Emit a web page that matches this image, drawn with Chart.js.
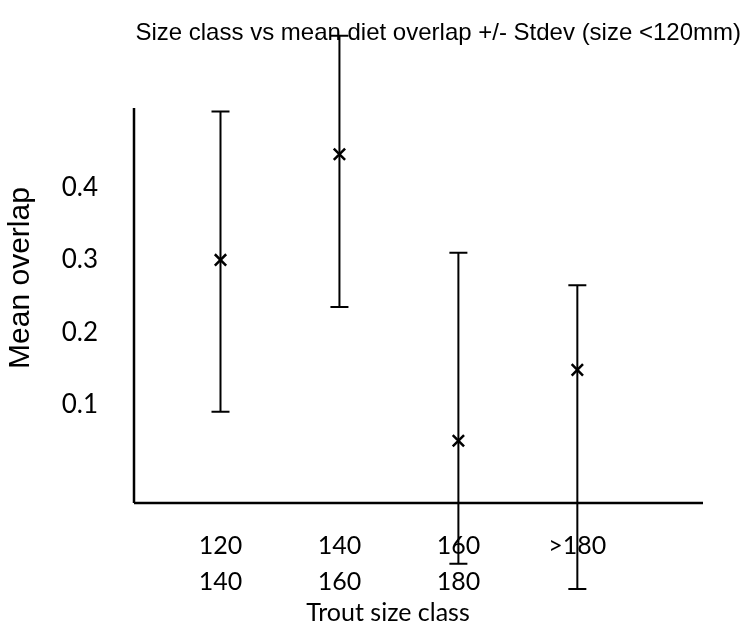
<!DOCTYPE html>
<html>
<head>
<meta charset="utf-8">
<script src="https://cdn.jsdelivr.net/npm/chart.js@4.4.1/dist/chart.umd.min.js"></script>
<style>
  html, body { margin: 0; padding: 0; background: #fff; }
  canvas { display: block; }
</style>
</head>
<body>
<canvas id="chart" width="746" height="628"></canvas>
<script>
// size classes (two-line tick labels)
const sizeClasses = [['120', '140'], ['140', '160'], ['160', '180'], ['>180']]
const meanOverlap = [0.30, 0.446, 0.05, 0.148]
// ends of the +/- stdev bars
const barLow = [0.09, 0.235, -0.12, -0.155]
const barHigh = [0.505, 0.61, 0.31, 0.265]
const yTicks = [0.1, 0.2, 0.3, 0.4]

Chart.defaults.color = '#000'

// hand drawn looking axis lines, longer than the plot area
const axisLines = {
  id: 'axisLines',
  afterDraw (chart) {
    const { ctx, chartArea } = chart
    ctx.save()
    ctx.strokeStyle = '#000'
    ctx.lineWidth = 2.5
    ctx.beginPath()
    ctx.moveTo(chartArea.left + 1, 108)
    ctx.lineTo(chartArea.left + 1, chartArea.bottom)
    ctx.moveTo(chartArea.left + 1, chartArea.bottom)
    ctx.lineTo(703, chartArea.bottom)
    ctx.stroke()
    ctx.restore()
  },
}

const errorBars = {
  id: 'errorBars',
  beforeDatasetsDraw (chart) {
    const { ctx, scales: { x, y } } = chart
    ctx.save()
    ctx.strokeStyle = '#000'
    ctx.lineWidth = 2
    meanOverlap.forEach((m, i) => {
      const px = x.getPixelForValue(i + 1)
      const lo = y.getPixelForValue(barLow[i])
      const hi = y.getPixelForValue(barHigh[i])
      ctx.beginPath()
      ctx.moveTo(px, hi)
      ctx.lineTo(px, lo)
      ctx.moveTo(px - 9, hi)
      ctx.lineTo(px + 9, hi)
      ctx.moveTo(px - 9, lo)
      ctx.lineTo(px + 9, lo)
      ctx.stroke()
    })
    ctx.restore()
  },
}

new Chart(document.getElementById('chart'), {
  type: 'scatter',
  data: {
    datasets: [{
      data: meanOverlap.map((v, i) => ({ x: i + 1, y: v })),
      pointStyle: 'crossRot',
      pointRadius: 8,
      pointHoverRadius: 8,
      borderWidth: 2.5,
      borderColor: '#000',
      backgroundColor: '#000',
    }],
  },
  options: {
    responsive: false,
    animation: false,
    layout: { padding: { left: 0, right: 5, top: 0, bottom: 0 } },
    plugins: {
      legend: { display: false },
      tooltip: { enabled: false },
      title: {
        display: true,
        text: 'Size class vs mean diet overlap +/- Stdev (size <120mm)',
        align: 'end',
        font: { family: 'Liberation Sans', size: 24, weight: 'normal', lineHeight: 1.2 },
        padding: { top: 18.6, bottom: 5.6 },
      },
    },
    scales: {
      x: {
        type: 'linear',
        min: 0.2644,
        max: 4.552,
        grid: { display: false, drawTicks: false },
        border: { display: false },
        afterBuildTicks: s => { s.ticks = sizeClasses.map((c, i) => ({ value: i + 1 })) },
        afterFit: s => { s.height = 125 },
        ticks: {
          autoSkip: false,
          maxRotation: 0,
          padding: 25,
          font: { family: 'Lato', size: 25, lineHeight: 1.45 },
          callback: (v, i) => sizeClasses[i],
        },
        title: {
          display: true,
          text: 'Trout size class',
          font: { family: 'Lato', size: 25, lineHeight: 1.2 },
          padding: { top: 0, bottom: 0 },
        },
      },
      y: {
        min: -0.036,
        max: 0.586,
        grid: { display: false, drawTicks: false },
        border: { display: false },
        afterBuildTicks: s => { s.ticks = yTicks.map(v => ({ value: v })) },
        afterFit: s => { s.width = 133 },
        ticks: {
          padding: 35,
          font: { family: 'Lato', size: 26 },
          callback: v => v.toFixed(1),
        },
        title: {
          display: true,
          text: 'Mean overlap',
          font: { family: 'Liberation Sans', size: 30, lineHeight: 1.2 },
          padding: { top: 3, bottom: 0 },
        },
      },
      // empty right axis, only keeps the plot area narrower than the title row
      y2: {
        position: 'right',
        grid: { display: false },
        border: { display: false },
        ticks: { display: false },
        afterFit: s => { s.width = 98 },
      },
    },
  },
  plugins: [errorBars, axisLines],
})
</script>
</body>
</html>
